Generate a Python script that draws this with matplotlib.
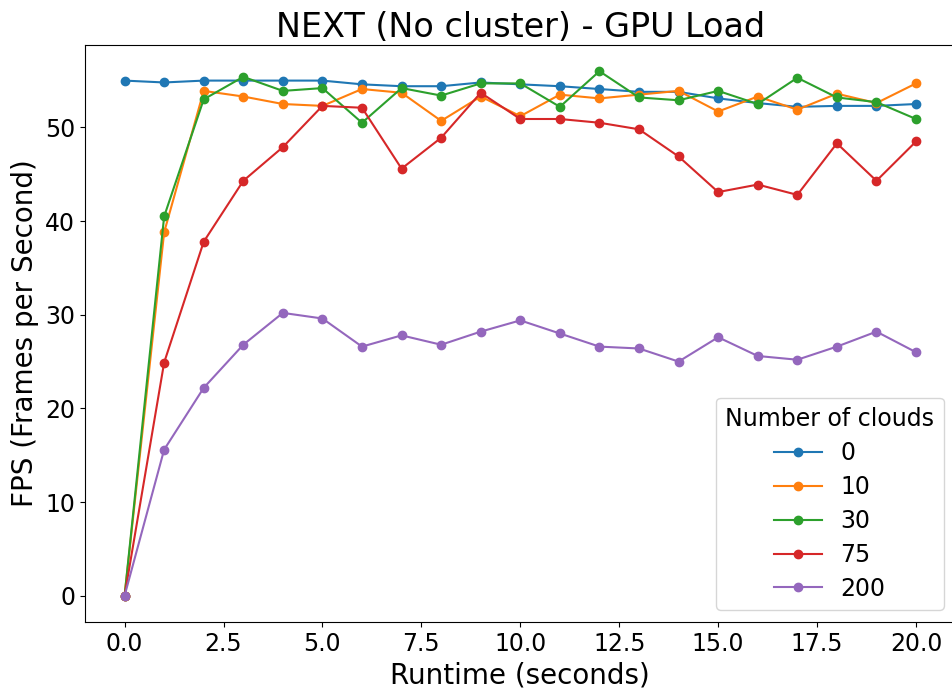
import matplotlib
matplotlib.use("Agg")
import matplotlib.pyplot as plt

runtime = list(range(21))

fps_0 = [55.0, 54.8, 55.0, 55.0, 55.0, 55.0, 54.6, 54.4, 54.4, 54.8, 54.6,
         54.4, 54.1, 53.8, 53.8, 53.1, 52.6, 52.2, 52.3, 52.3, 52.5]
fps_10 = [0.0, 38.8, 53.9, 53.3, 52.5, 52.3, 54.1, 53.7, 50.7, 53.3, 51.2,
          53.5, 53.1, 53.5, 53.9, 51.7, 53.3, 51.9, 53.6, 52.6, 54.7]
fps_30 = [0.0, 40.5, 53.0, 55.4, 53.9, 54.2, 50.5, 54.2, 53.4, 54.7, 54.7,
          52.2, 56.0, 53.2, 52.9, 53.9, 52.5, 55.3, 53.2, 52.7, 50.9]
fps_75 = [0.0, 24.9, 37.8, 44.3, 47.9, 52.3, 52.1, 45.6, 48.9, 53.7, 50.9,
          50.9, 50.5, 49.8, 46.9, 43.1, 43.9, 42.8, 48.3, 44.3, 48.5]
fps_200 = [0.0, 15.6, 22.2, 26.8, 30.2, 29.6, 26.6, 27.8, 26.8, 28.2, 29.4,
           28.0, 26.6, 26.4, 25.0, 27.6, 25.6, 25.2, 26.6, 28.2, 26.0]

series = [("0", fps_0), ("10", fps_10), ("30", fps_30), ("75", fps_75), ("200", fps_200)]

fig = plt.figure(figsize=(9.53, 6.9), dpi=100)
# axes placed so the right spine falls just past the image edge, like the cropped original
ax = fig.add_axes([85 / 953, 1 - 622 / 690, 870.6 / 953, (622 - 45) / 690])

for label, values in series:
    ax.plot(runtime, values, marker="o", label=label)

ax.set_title("NEXT (No cluster) - GPU Load", fontsize=24)
ax.set_xlabel("Runtime (seconds)", fontsize=20)
ax.set_ylabel("FPS (Frames per Second)", fontsize=20)
ax.tick_params(labelsize=17)
ax.legend(title="Number of clouds", fontsize=17, title_fontsize=17,
          loc="lower right", labelspacing=0.42)

fig.savefig("out.png", dpi=100)
